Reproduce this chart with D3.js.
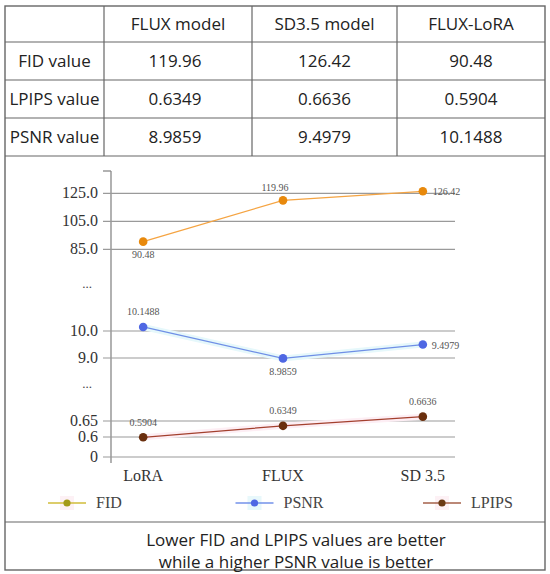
<!DOCTYPE html>
<html><head><meta charset="utf-8">
<script src="https://cdn.jsdelivr.net/npm/d3@7"></script>
<style>body{margin:0;background:#fff} svg{display:block}</style>
</head><body><svg id="c" width="550" height="574"></svg>
<script>
// ---------- data ----------
const categories = ["LoRA", "FLUX", "SD 3.5"];
const fidValues = [90.48, 119.96, 126.42];
const psnrValues = [10.1488, 8.9859, 9.4979];
const lpipsValues = [0.5904, 0.6349, 0.6636];

const tableModels = ["FLUX model", "SD3.5 model", "FLUX-LoRA"];
const tableMetrics = ["FID value", "LPIPS value", "PSNR value"];
const tableFid = ["119.96", "126.42", "90.48"];
const tableLpips = ["0.6349", "0.6636", "0.5904"];
const tablePsnr = ["8.9859", "9.4979", "10.1488"];

const fidTicks = [85, 105, 125];
const fidTickLabels = ["85.0", "105.0", "125.0"];
const psnrTicks = [9, 10];
const psnrTickLabels = ["9.0", "10.0"];
const lpipsTicks = [0, 0.6, 0.65];
const lpipsTickLabels = ["0", "0.6", "0.65"];
const legendLabels = ["FID", "PSNR", "LPIPS"];
const captionLines = ["Lower FID and LPIPS values are better", "while a higher PSNR value is better"];

// ---------- layout ----------
const svg = d3.select("#c");
const sans = "'Open Sans', 'Noto Sans', sans-serif";
const serif = "'Liberation Serif', 'DejaVu Serif', serif";
const box = {left: 5, right: 545, top: 6, bottom: 570};
const colX = [5, 104, 252, 397, 545];
const rowY = [6, 42, 80, 118, 156];
const captionTop = 522;

// ---------- table ----------
const tableData = [
  ["", ...tableModels],
  [tableMetrics[0], ...tableFid],
  [tableMetrics[1], ...tableLpips],
  [tableMetrics[2], ...tablePsnr]
];
const g = svg.append("g");
g.append("rect").attr("x", box.left).attr("y", box.top)
  .attr("width", box.right - box.left).attr("height", box.bottom - box.top)
  .attr("fill", "none").attr("stroke", "#666").attr("stroke-width", 1.4);
rowY.slice(1).concat([captionTop]).forEach(y => {
  g.append("line").attr("x1", box.left).attr("x2", box.right).attr("y1", y).attr("y2", y)
    .attr("stroke", "#666").attr("stroke-width", 1.2);
});
colX.slice(1, -1).forEach(x => {
  g.append("line").attr("x1", x).attr("x2", x).attr("y1", rowY[0]).attr("y2", rowY[rowY.length - 1])
    .attr("stroke", "#666").attr("stroke-width", 1.2);
});
tableData.forEach((row, r) => {
  row.forEach((txt, c) => {
    g.append("text")
      .attr("x", (colX[c] + colX[c + 1]) / 2 - (c === 1 && r > 0 ? 3 : 0))
      .attr("y", (rowY[r] + rowY[r + 1]) / 2 + 6)
      .attr("text-anchor", "middle")
      .attr("font-family", sans).attr("font-size", 17).attr("fill", "#222")
      .text(txt);
  });
});

// ---------- chart ----------
const axisX = 111, gridRight = 455, axisTop = 171, axisBottom = 463;
const x = d3.scalePoint().domain(categories).range([axisX, gridRight]).padding(0.23);
const yFid = d3.scaleLinear().domain([85, 125]).range([249.3, 193.3]);
const yPsnr = d3.scaleLinear().domain([9, 10]).range([358, 331]);
const yLpips = d3.scaleLinear().domain([0, 0.6, 0.65]).range([457, 437, 421]);

const cg = svg.append("g");
cg.append("line").attr("x1", axisX).attr("x2", axisX).attr("y1", axisTop).attr("y2", axisBottom)
  .attr("stroke", "#888").attr("stroke-width", 1.3);
cg.append("line").attr("x1", axisX - 8).attr("x2", axisX).attr("y1", axisTop).attr("y2", axisTop)
  .attr("stroke", "#888").attr("stroke-width", 1.3);

const tickSets = [
  [yFid, fidTicks, fidTickLabels],
  [yPsnr, psnrTicks, psnrTickLabels],
  [yLpips, lpipsTicks, lpipsTickLabels]
];
tickSets.forEach(([sc, ticks, labels]) => {
  ticks.forEach((t, i) => {
    const y = sc(t);
    cg.append("line").attr("x1", axisX - 8).attr("x2", gridRight).attr("y1", y).attr("y2", y)
      .attr("stroke", "#9a9a9a").attr("stroke-width", 1.2);
    cg.append("text").attr("x", axisX - 13).attr("y", y + 5)
      .attr("text-anchor", "end").attr("font-family", serif).attr("font-size", 16).attr("fill", "#333")
      .text(labels[i]);
  });
});
// break markers
[(yFid(85) + yPsnr(10)) / 2 - 2, (yPsnr(9) + yLpips(0.65)) / 2 - 2].forEach(y => {
  cg.append("text").attr("x", 87).attr("y", y).attr("text-anchor", "middle")
    .attr("font-family", serif).attr("font-size", 13).attr("fill", "#444").text("...");
});
categories.forEach(c => {
  cg.append("text").attr("x", x(c)).attr("y", 481).attr("text-anchor", "middle")
    .attr("font-family", serif).attr("font-size", 16).attr("fill", "#333").text(c);
});

const series = [
  {vals: fidValues, y: yFid, line: "#f5a442", dot: "#e8890c", glow: null,
   lab: [["m", 0, 16], ["m", -8, -9], ["s", 10, 4]]},
  {vals: psnrValues, y: yPsnr, line: "#6f8fe6", dot: "#4f67e3", glow: "#e6f8fb",
   lab: [["m", 0, -12], ["m", 0, 17], ["s", 9, 4]]},
  {vals: lpipsValues, y: yLpips, line: "#a3402e", dot: "#6a2f0e", glow: "#fdeef4",
   lab: [["m", 0, -11], ["m", 0, -12], ["m", 0, -12]]}
];
series.forEach(s => {
  const pts = categories.map((c, i) => [x(c), s.y(s.vals[i])]);
  const line = d3.line();
  if (s.glow) {
    cg.append("path").attr("d", line(pts)).attr("fill", "none")
      .attr("stroke", s.glow).attr("stroke-width", 6);
  }
  cg.append("path").attr("d", line(pts)).attr("fill", "none")
    .attr("stroke", s.line).attr("stroke-width", 1.3);
  pts.forEach((p, i) => {
    cg.append("circle").attr("cx", p[0]).attr("cy", p[1]).attr("r", 4.3).attr("fill", s.dot);
    const [a, dx, dy] = s.lab[i];
    cg.append("text").attr("x", p[0] + dx).attr("y", p[1] + dy)
      .attr("text-anchor", a === "m" ? "middle" : "start")
      .attr("font-family", serif).attr("font-size", 10).attr("fill", "#555")
      .text(String(s.vals[i]));
  });
});

// legend
const legend = [
  {line: "#d0bc3a", dot: "#a39a1a", glow: "#fdf1f5"},
  {line: "#7392ea", dot: "#4f67e3", glow: "#e8f8fb"},
  {line: "#a5604a", dot: "#6b3a14", glow: "#fdf1f5"}
];
const legendX = d3.scalePoint().domain(legendLabels).range([48, 423]);
legendLabels.forEach((lbl, i) => {
  const lx = legendX(lbl), ly = 503;
  cg.append("rect").attr("x", lx + 12).attr("y", ly - 7).attr("width", 14).attr("height", 14)
    .attr("fill", legend[i].glow);
  cg.append("line").attr("x1", lx).attr("x2", lx + 38).attr("y1", ly).attr("y2", ly)
    .attr("stroke", legend[i].line).attr("stroke-width", 1.3);
  cg.append("circle").attr("cx", lx + 19).attr("cy", ly).attr("r", 3.6).attr("fill", legend[i].dot);
  cg.append("text").attr("x", lx + 48).attr("y", ly + 5).attr("font-family", serif)
    .attr("font-size", 16).attr("fill", "#444").text(lbl);
});

// caption
captionLines.forEach((t, i) => {
  svg.append("text").attr("x", 296).attr("y", 546 + i * 22).attr("text-anchor", "middle")
    .attr("font-family", sans).attr("font-size", 17).attr("fill", "#222").text(t);
});
</script></body></html>
